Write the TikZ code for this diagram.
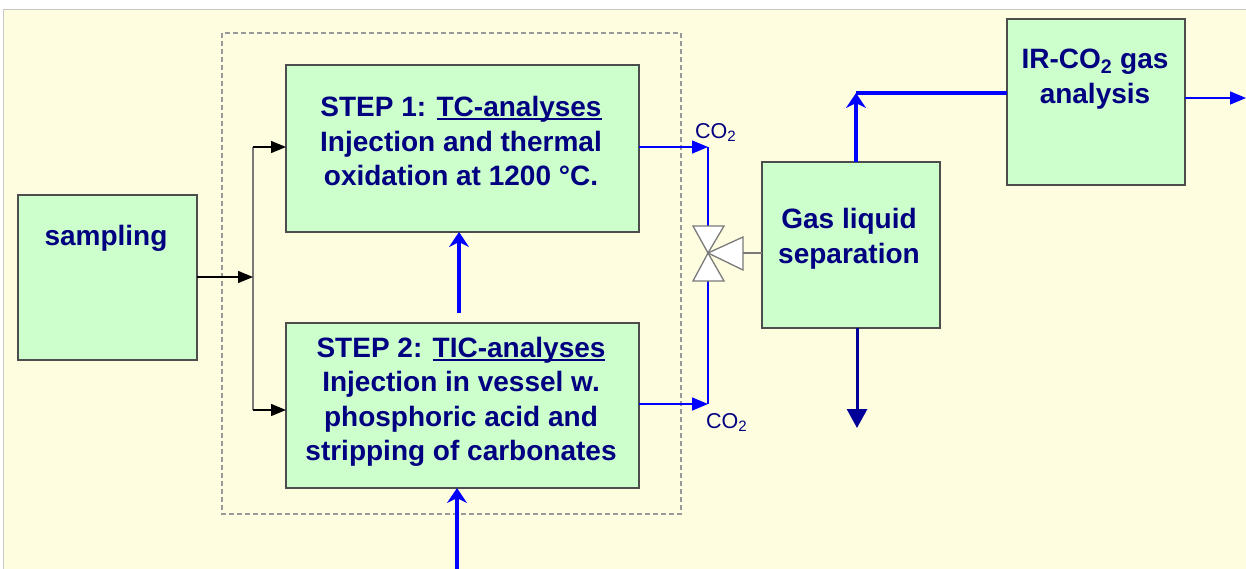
\documentclass[tikz,border=0pt]{standalone}
\usepackage{fontspec}
\setmainfont{Liberation Sans}
\usetikzlibrary{arrows.meta,calc}
\definecolor{bg}{HTML}{FFFDE0}
\definecolor{bgline}{HTML}{C8C8C8}
\definecolor{boxfill}{HTML}{CCFFCC}
\definecolor{boxline}{HTML}{4D4D4D}
\definecolor{txt}{HTML}{000080}
\definecolor{flow}{HTML}{0000FF}
\definecolor{drainc}{HTML}{000099}
\definecolor{valveline}{HTML}{7A7A7A}
\newcommand\myul[1]{\setbox0\hbox{#1}\rlap{\rule[-3.5pt]{\wd0}{1.6pt}}\box0}
\tikzset{
  box/.style={draw=boxline, line width=2pt, fill=boxfill, inner sep=0pt, outer sep=0pt},
  lbl/.style={font=\bfseries\fontsize{28}{34.5}\selectfont, text=txt, align=center, inner sep=0pt},
  colbl/.style={font=\fontsize{21.5}{25}\selectfont, text=txt, inner sep=0pt},
  blackarrow/.style={line width=1.4pt, black, -{Triangle[length=15pt,width=12pt]}},
  thinflow/.style={line width=1.5pt, flow, -{Triangle[length=16pt,width=13pt]}},
  thickflow/.style={line width=3.5pt, flow, -{Stealth[length=15pt,width=20pt,inset=5pt]}},
  valvepart/.style={draw=valveline, line width=1.3pt, fill=white},
}
\begin{document}
\begin{tikzpicture}[x=1pt,y=-1pt]
\useasboundingbox (0,0) rectangle (1246,568);
% background
\fill[white] (0,0) rectangle (1246,568);
\draw[bgline, line width=1pt, fill=bg] (3,9) rectangle (1260,580);
% dashed group
\draw[gray!80, line width=1.2pt, dash pattern=on 5pt off 3pt] (222,33) rectangle (681,514);

% boxes
\node[box, minimum width=179, minimum height=165] (samp) at (107.5,277.5) {};
\node[box, minimum width=353, minimum height=167] (s1) at (462.5,148.5) {};
\node[box, minimum width=353, minimum height=165] (s2) at (462.5,405.5) {};
\node[box, minimum width=178, minimum height=166] (gl) at (851,245) {};
\node[box, minimum width=178, minimum height=166] (ir) at (1096,102) {};

% texts
\node[lbl, anchor=base] (tsamp) at (106,245) {sampling};
\node[lbl] (t1) at (461,141) {STEP 1: \myul{TC-analyses}\\Injection and thermal\\oxidation at 1200 °C.};
\node[lbl] (t2) at (461,402) {STEP 2: \myul{TIC-analyses}\\Injection in vessel w.\\phosphoric acid and\\stripping of carbonates};
\node[lbl] (tgl) at (849,239) {Gas liquid\\separation};
\node[lbl] (tir) at (1095,79) {IR-CO\textsubscript{2} gas\\analysis};
\node[colbl, anchor=base west] (co1) at (695,138) {CO\textsubscript{2}};
\node[colbl, anchor=base west] (co2) at (706,428) {CO\textsubscript{2}};

% splitting connectors
\coordinate (j) at (253,277);
\coordinate (jt) at (253,147);
\coordinate (jb) at (253,410);
\draw[line width=2pt, valveline] (jt) -- (jb);
\draw[blackarrow] (samp.east |- j) -- (j);
\draw[blackarrow] (jt) -- (s1.west |- jt);
\draw[blackarrow] (jb) -- (s2.west |- jb);

% thick blue arrows into the steps
\coordinate (mid) at (459,313);
\draw[thickflow] (mid) -- (s1.south -| mid);
\coordinate (feed) at (457,570);
\draw[thickflow] (feed) -- (s2.south -| feed);

% CO2 lines to valve
\coordinate (c1) at (708,147);
\coordinate (c2) at (708,404);
\coordinate (vc) at (708,253);
\coordinate (vt) at (708,226);
\coordinate (vb) at (708,281);
\draw[thinflow] (s1.east |- c1) -- (c1);
\draw[thinflow] (s2.east |- c2) -- (c2);
\draw[line width=1.5pt, flow] (c1) -- (vt);
\draw[line width=1.5pt, flow] (vb) -- (c2);

% valve
\draw[valvepart] (693,226) -- (724,226) -- (vc) -- cycle;
\draw[valvepart] (693,281) -- (724,281) -- (vc) -- cycle;
\draw[valvepart] (743,237) -- (743,270) -- (vc) -- cycle;
\coordinate (vs) at (743,253);
\draw[line width=1.5pt, valveline] (vs) -- (gl.west |- vs);

% gas outlet to IR analyser
\coordinate (cup) at (856,93);
\draw[thickflow] (gl.north -| cup) -- (cup);
\draw[line width=3.5pt, flow] (cup) -- (ir.west |- cup);

% IR outlet
\coordinate (out) at (1246,98);
\draw[thinflow] (ir.east |- out) -- (out);

% liquid drain
\coordinate (drain) at (857,428);
\draw[line width=3pt, drainc, -{Triangle[length=19pt,width=20pt]}] (gl.south -| drain) -- (drain);
\end{tikzpicture}
\end{document}
